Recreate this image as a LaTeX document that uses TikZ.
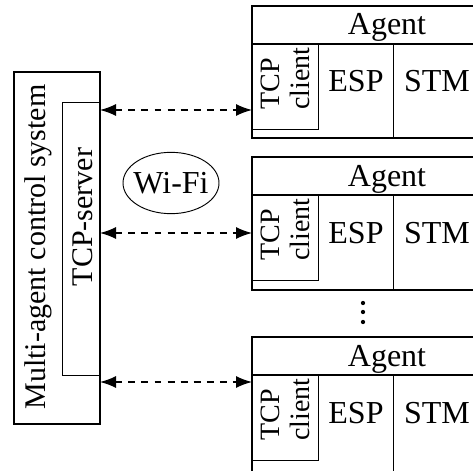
\documentclass[tikz,border=0pt]{standalone}
\usepackage{fontspec}
\setmainfont{Liberation Serif}
\usetikzlibrary{positioning}
\usetikzlibrary{arrows.meta}
\usetikzlibrary{shapes.geometric}
\tikzset{
	box/.style={draw,line width=1.4pt},
	thin box/.style={draw,line width=0.7pt},
	link/.style={line width=1pt,dash pattern=on 5.2pt off 4.6pt,{Latex[length=12pt,width=9pt]}-{Latex[length=12pt,width=9pt]}},
	big text/.style={font=\fontsize{24}{26}\selectfont,inner sep=0pt},
	mid text/.style={font=\fontsize{22.5}{25}\selectfont,inner sep=0pt},
	small text/.style={font=\fontsize{21}{22.5}\selectfont,inner sep=0pt},
}

\begin{document}
\begin{tikzpicture}[x=0.75pt,y=-0.75pt]
				\clip (0,0) rectangle (473,470);
				
				% control system box...................
				\draw [box] (14,72) rectangle (100,424);
				\draw [thin box] (62,102) rectangle (100,375);
				\node [mid text,rotate=90,anchor=base] (mas) at (45,247) {Multi-agent control system};
				\node [mid text,rotate=90,anchor=base] (srv) at (92,217) {TCP-server};
				
				% agents.............................
				\foreach \i/\t/\b in {1/6/138, 2/157/290, 3/337/490} {
					\draw [box] (252,\t) rectangle (530,\b);
					\draw [box] (252,\t+38) -- (530,\t+38);
					\draw [thin box] (252,\t+38) rectangle (318,\t+123);
					\draw [thin box] (393,\t+38) -- (393,\b);
					\node [big text,anchor=base] (agent\i) at (387,\t+29) {Agent};
					\node [small text,rotate=90,align=left,anchor=south west] (client\i) at (310,\t+104) {TCP\\client};
					\node [big text,anchor=base] (esp\i) at (356,\t+86) {ESP};
					\node [big text,anchor=base] (stm\i) at (437,\t+86) {STM};
				}
				
				% more agents in between................
				\foreach \y in {303,312,322}
					\fill (363,\y) circle (1.6pt);
				
				% wireless link.........................
				\node [big text] (wifi) at (171,183) {Wi-Fi};
				\draw [line width=0.7pt] (wifi.center) ellipse [x radius=36pt,y radius=23pt];
				
				% connections server <-> clients.........
				\coordinate (s1) at (100,110);
				\coordinate (c1) at (252,110);
				\coordinate (s2) at (100,233);
				\coordinate (c2) at (252,233);
				\coordinate (s3) at (100,382);
				\coordinate (c3) at (252,382);
				\draw [link] (s1) -- (c1);
				\draw [link] (s2) -- (c2);
				\draw [link] (s3) -- (c3);
			\end{tikzpicture}
\end{document}
